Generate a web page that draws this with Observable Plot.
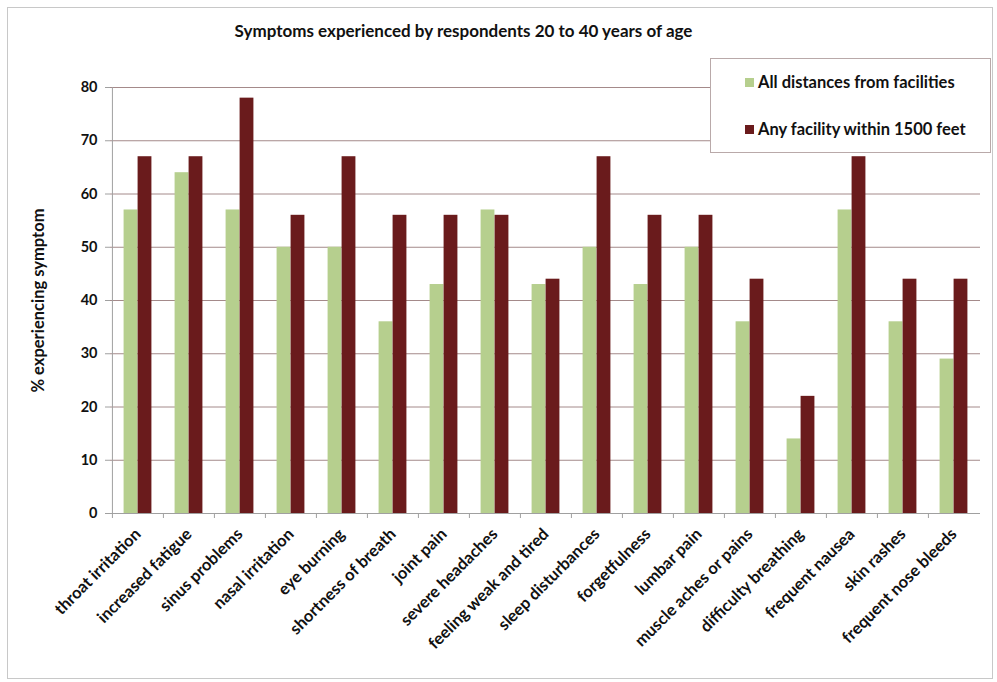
<!DOCTYPE html>
<html>
<head>
<meta charset="utf-8">
<script src="https://cdn.jsdelivr.net/npm/d3@7"></script>
<script src="https://cdn.jsdelivr.net/npm/@observablehq/plot@0.6"></script>
<style>
  html, body { margin: 0; padding: 0; background: #fff; }
  #wrap { position: relative; width: 997px; height: 682px; font-family: Lato, "Open Sans", sans-serif; }
  #frame { position: absolute; left: 7px; top: 7px; width: 986px; height: 672px; border: 1px solid #c8c8c8; box-sizing: border-box; pointer-events: none; }
  #title { position: absolute; left: 0; width: 927px; top: 20px; text-align: center; font-weight: bold; font-size: 17px; color: #111; }
  #legend { position: absolute; left: 710px; top: 58px; width: 281px; height: 95px; border: 1px solid #b9a9a9; background: #fff; box-sizing: border-box; }
  .li { position: absolute; left: 34px; font-weight: bold; font-size: 16.5px; color: #111; white-space: nowrap; }
  .sw { display: inline-block; width: 9px; height: 9px; margin-right: 4px; vertical-align: 1px; }
  svg text { font-weight: bold; }
</style>
</head>
<body>
<div id="wrap">
  <div id="chart"></div>
  <div id="frame"></div>
  <div id="title"></div>
  <div id="legend"></div>
</div>
<script>
const titleText = "Symptoms experienced by respondents 20 to 40 years of age";
const yLabel = "% experiencing symptom";
const categories = [
  "throat irritation", "increased fatigue", "sinus problems", "nasal irritation",
  "eye burning", "shortness of breath", "joint pain", "severe headaches",
  "feeling weak and tired", "sleep disturbances", "forgetfulness", "lumbar pain",
  "muscle aches or pains", "difficulty breathing", "frequent nausea", "skin rashes",
  "frequent nose bleeds"
];
const seriesNames = ["All distances from facilities", "Any facility within 1500 feet"];
const allDistances = [57, 64, 57, 50, 50, 36, 43, 57, 43, 50, 43, 50, 36, 14, 57, 36, 29];
const within1500 = [67, 67, 78, 56, 67, 56, 56, 56, 44, 67, 56, 56, 44, 22, 67, 44, 44];
const colors = ["#b6cf8e", "#6a1b1c"];
const yTicks = [0, 10, 20, 30, 40, 50, 60, 70, 80];

const data = [];
categories.forEach((c, i) => {
  data.push({symptom: c, series: seriesNames[0], value: allDistances[i]});
  data.push({symptom: c, series: seriesNames[1], value: within1500[i]});
});

const W = 997, H = 682, mL = 110, mR = 17, mT = 87, mB = 169;
const step = (W - mL - mR) / categories.length;
const barW = 14;
const outer = (step - 2 * barW) / 2;

document.getElementById("title").textContent = titleText;
const leg = document.getElementById("legend");
seriesNames.forEach((s, i) => {
  const d = document.createElement("div");
  d.className = "li";
  d.style.top = (i === 0 ? 13 : 60) + "px";
  d.innerHTML = `<span class="sw" style="background:${colors[i]}"></span>${s}`;
  leg.appendChild(d);
});

const chart = Plot.plot({
  width: W, height: H,
  marginLeft: mL, marginRight: mR, marginTop: mT, marginBottom: mB,
  style: {fontFamily: "Lato, 'Open Sans', sans-serif", color: "#111", background: "transparent"},
  x: {domain: categories, padding: 0, label: null},
  y: {domain: [0, 80]},
  color: {domain: seriesNames, range: colors},
  marks: [
    Plot.ruleY(yTicks.slice(1), {stroke: "#a48a8a", strokeWidth: 1, strokeOpacity: 1}),
    Plot.barY(data.filter(d => d.series === seriesNames[0]), {
      x: "symptom", y: "value", fill: "series",
      insetLeft: outer, insetRight: outer + barW
    }),
    Plot.barY(data.filter(d => d.series === seriesNames[1]), {
      x: "symptom", y: "value", fill: "series",
      insetLeft: outer + barW, insetRight: outer
    }),
    Plot.ruleY([0], {stroke: "#a0a0a0"}),
    Plot.ruleX([categories[0]], {dx: -step / 2, stroke: "#a0a0a0"}),
    Plot.axisY({
      ticks: yTicks, tickSize: 5, tickPadding: 8, fontSize: 14.5,
      stroke: "#a0a0a0",
      label: yLabel, labelAnchor: "center", labelArrow: "none", labelOffset: 78
    }),
    Plot.axisX({
      ticks: categories, tickSize: 5, tickFormat: () => "", dx: -step / 2, stroke: "#a0a0a0", label: null
    }),
    Plot.axisX({
      tickSize: 0, tickRotate: -45, fontSize: 16.5, tickPadding: 18, label: null
    })
  ]
});
chart.querySelectorAll("g[aria-label='y-axis label'] text").forEach(t => t.style.fontSize = "16.5px");
document.getElementById("chart").appendChild(chart);
</script>
</body>
</html>
